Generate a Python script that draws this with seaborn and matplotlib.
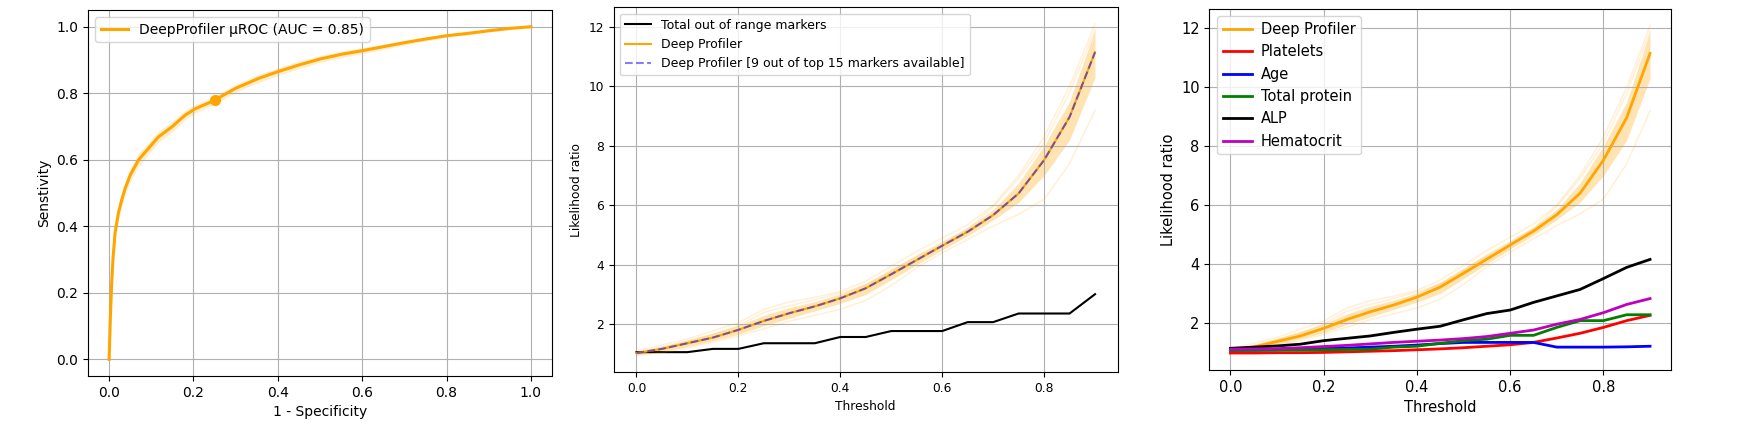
import matplotlib
matplotlib.use("Agg")
import matplotlib.pyplot as plt
import numpy as np
import pandas as pd
import seaborn as sns

# ROC curve (1 - specificity, sensitivity)
roc_fpr = [0.0, 0.003, 0.006, 0.0095, 0.014, 0.018, 0.022, 0.03, 0.038, 0.05, 0.07,
           0.093, 0.117, 0.149, 0.18, 0.205, 0.247, 0.3, 0.355, 0.4, 0.45, 0.5, 0.55,
           0.6, 0.65, 0.7, 0.75, 0.8, 0.85, 0.9, 0.95, 1.0]
roc_tpr = [0.0, 0.128, 0.228, 0.308, 0.379, 0.41, 0.44, 0.48, 0.514, 0.554, 0.6,
           0.634, 0.669, 0.699, 0.734, 0.754, 0.777, 0.815, 0.845, 0.865, 0.885, 0.903,
           0.917, 0.928, 0.94, 0.952, 0.963, 0.973, 0.98, 0.988, 0.995, 1.0]
roc_spread = [0.0, 0.01, 0.015, 0.02, 0.02, 0.02, 0.02, 0.02, 0.02, 0.02, 0.02,
              0.018, 0.018, 0.016, 0.014, 0.013, 0.012, 0.012, 0.012, 0.012, 0.011,
              0.01, 0.01, 0.009, 0.008, 0.007, 0.006, 0.005, 0.005, 0.004, 0.003, 0.0]
op_point = (0.25, 0.78)

# likelihood ratio vs threshold
thresholds = [0.0, 0.05, 0.1, 0.15, 0.2, 0.25, 0.3, 0.35, 0.4, 0.45, 0.5, 0.55, 0.6,
              0.65, 0.7, 0.75, 0.8, 0.85, 0.9]
dp_mean = [1.03, 1.17, 1.36, 1.55, 1.81, 2.11, 2.37, 2.6, 2.87, 3.21, 3.68, 4.16, 4.64,
           5.11, 5.67, 6.4, 7.52, 8.97, 11.15]
dp_band_lo = [0.97, 1.08, 1.25, 1.45, 1.66, 1.95, 2.2, 2.45, 2.7, 3.0, 3.5, 4.0, 4.5,
              4.98, 5.5, 6.1, 7.0, 8.2, 10.3]
dp_band_hi = [1.1, 1.27, 1.47, 1.7, 1.96, 2.3, 2.56, 2.76, 3.02, 3.38, 3.86, 4.32, 4.76,
              5.25, 5.85, 6.75, 8.0, 9.5, 11.9]
dp_run_lo = [0.95, 1.05, 1.2, 1.4, 1.6, 1.85, 2.1, 2.3, 2.5, 2.8, 3.3, 3.9, 4.4,
             4.85, 5.3, 5.7, 6.2, 7.4, 9.2]
dp_run_hi = [1.1, 1.3, 1.5, 1.78, 2.05, 2.5, 2.75, 2.9, 3.1, 3.45, 3.95, 4.45, 4.9,
             5.35, 6.0, 7.0, 8.3, 10.0, 12.1]
dp_run_mid = [1.02, 1.2, 1.42, 1.65, 1.95, 2.4, 2.62, 2.82, 3.05, 3.3, 3.75, 4.3, 4.75,
              5.2, 5.95, 6.9, 8.1, 9.8, 11.9]
out_of_range = [1.06, 1.06, 1.06, 1.17, 1.17, 1.36, 1.36, 1.36, 1.57, 1.57, 1.77, 1.77,
                1.77, 2.07, 2.07, 2.36, 2.36, 2.36, 3.01]

markers = {
    "Platelets": [0.97, 0.97, 0.98, 0.98, 0.99, 1.01, 1.03, 1.05, 1.08, 1.11, 1.15, 1.2,
                  1.25, 1.33, 1.48, 1.64, 1.84, 2.07, 2.25],
    "Age": [1.07, 1.07, 1.08, 1.1, 1.12, 1.14, 1.17, 1.2, 1.24, 1.29, 1.33, 1.33, 1.33,
            1.33, 1.17, 1.17, 1.17, 1.18, 1.2],
    "Total protein": [1.06, 1.06, 1.07, 1.07, 1.08, 1.09, 1.1, 1.17, 1.2, 1.3, 1.39, 1.44,
                      1.57, 1.57, 1.84, 2.07, 2.07, 2.27, 2.27],
    "ALP": [1.13, 1.17, 1.21, 1.27, 1.39, 1.47, 1.55, 1.67, 1.78, 1.88, 2.1, 2.31, 2.43,
            2.69, 2.91, 3.13, 3.5, 3.88, 4.15],
    "Hematocrit": [1.1, 1.11, 1.12, 1.15, 1.19, 1.23, 1.28, 1.33, 1.37, 1.41, 1.46, 1.53,
                   1.64, 1.75, 1.95, 2.11, 2.34, 2.62, 2.82],
}
marker_colors = {"Platelets": "red", "Age": "blue", "Total protein": "green",
                 "ALP": "black", "Hematocrit": "m"}

fig = plt.figure(figsize=(17.43, 4.32), dpi=100)
ax1 = fig.add_axes([0.0505, 0.1296, 0.2662, 0.847])
ax2 = fig.add_axes([0.352, 0.1389, 0.2894, 0.844])
ax3 = fig.add_axes([0.6939, 0.1435, 0.2648, 0.8356])

# 1. ROC
fpr = np.array(roc_fpr)
tpr = np.array(roc_tpr)
spread = np.array(roc_spread)
ax1.fill_between(fpr, tpr - spread, tpr + spread, color="orange", alpha=0.2, lw=0)
sns.lineplot(x=fpr, y=tpr, ax=ax1, color="orange", lw=2.2,
             label="DeepProfiler μROC (AUC = 0.85)")
ax1.plot(*op_point, "o", color="orange", ms=7)
ax1.set_xlabel("1 - Specificity", fontsize=10)
ax1.set_ylabel("Senstivity", fontsize=10)
ax1.grid(True)
ax1.legend(loc="upper left", fontsize=10)


def deep_profiler(ax, lw):
    ax.fill_between(thresholds, dp_band_lo, dp_band_hi, color="orange", alpha=0.3, lw=0)
    for run in (dp_run_lo, dp_run_hi, dp_run_mid):
        ax.plot(thresholds, run, color="orange", alpha=0.15, lw=1.2)
    sns.lineplot(x=thresholds, y=dp_mean, ax=ax, color="orange", lw=lw, label="Deep Profiler")


# 2. out of range markers
sns.lineplot(x=thresholds, y=out_of_range, ax=ax2, color="black", lw=1.5,
             label="Total out of range markers")
deep_profiler(ax2, 1.5)
sns.lineplot(x=thresholds, y=dp_mean, ax=ax2, color="blue", alpha=0.5, lw=1.5,
             linestyle="--", label="Deep Profiler [9 out of top 15 markers available]")
ax2.set_xlabel("Threshold", fontsize=8.8)
ax2.set_ylabel("Likelihood ratio", fontsize=8.8)
ax2.tick_params(labelsize=8.8)
ax2.grid(True)
ax2.legend(loc="upper left", fontsize=9, handlelength=2.1)

# 3. single markers
deep_profiler(ax3, 2)
for name, vals in markers.items():
    sns.lineplot(x=thresholds, y=vals, ax=ax3, color=marker_colors[name], lw=2, label=name)
ax3.set_xlabel("Threshold", fontsize=10.5)
ax3.set_ylabel("Likelihood ratio", fontsize=10.5)
ax3.tick_params(labelsize=10.5)
ax3.grid(True)
ax3.legend(loc="upper left", fontsize=10.5, handletextpad=0.6)

fig.savefig("out.png", dpi=100)
